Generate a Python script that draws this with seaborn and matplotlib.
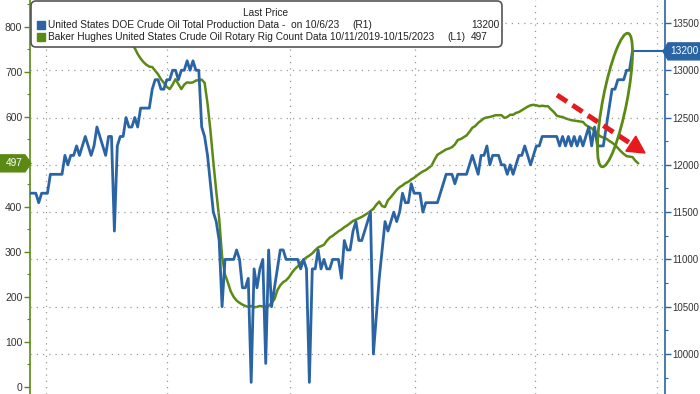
import numpy as np
import pandas as pd
import matplotlib.pyplot as plt
import seaborn as sns
from matplotlib.patches import FancyBboxPatch, Ellipse, Polygon, Rectangle
from matplotlib.lines import Line2D

# produccion semanal DOE (miles de barriles/dia), eje derecho
produccion = [
    11700, 11700, 11700, 11600, 11700, 11700, 11700, 11900, 11900, 11900,
    11900, 11900, 12100, 12000, 12100, 12100, 12200, 12100, 12200, 12300,
    12200, 12100, 12200, 12400, 12300, 12200, 12100, 12300, 12300, 11300,
    12200, 12300, 12300, 12500, 12400, 12400, 12500, 12400, 12600, 12600,
    12600, 12600, 12800, 12900, 12900, 12800, 12800, 12900, 12900, 13000,
    13000, 12900, 13000, 13000, 13100, 13000, 13100, 13000, 13000, 12400,
    12300, 12100, 11800, 11500, 11400, 11200, 10500, 11000, 11000, 11000,
    11000, 11100, 11000, 10700, 10700, 10800, 9700, 10900, 10700, 10900,
    11000, 9900, 11100, 10500, 10700, 10900, 11100, 11100, 11000, 11000,
    11000, 11000, 11000, 10900, 11000, 10900, 9700, 10900, 10900, 11100,
    10900, 11000, 10900, 10900, 11000, 11000, 11000, 10800, 11200, 11100,
    11100, 11300, 11400, 11200, 11200, 11300, 11400, 11500, 10000, 10400,
    10800, 11100, 11400, 11300, 11400, 11500, 11400, 11500, 11700, 11600,
    11600, 11800, 11700, 11700, 11700, 11500, 11600, 11600, 11600, 11600,
    11600, 11700, 11800, 11900, 11900, 11900, 11800, 11900, 11900, 11900,
    11900, 12000, 12100, 12000, 11900, 12100, 12100, 12200, 12000, 12100,
    12100, 12100, 12000, 12000, 11900, 12000, 11900, 12000, 12100, 12100,
    12200, 12100, 12000, 12100, 12200, 12200, 12300, 12300, 12300, 12300,
    12300, 12300, 12200, 12300, 12200, 12300, 12200, 12300, 12200, 12300,
    12200, 12300, 12400, 12200, 12400, 12200, 12200, 12200, 12400, 12600,
    12800, 12800, 12900, 12900, 12900, 13000, 13000, 13200,
]

# plataformas Baker Hughes (L1), eje izquierdo
plataformas = [
    832, 828, 826, 821, 818, 815, 812, 810, 806, 804,
    801, 800, 797, 795, 794, 792, 790, 788, 787, 785,
    784, 782, 781, 780, 778, 777, 776, 775, 774, 772,
    771, 770, 768, 766, 763, 760, 753, 740, 730, 722,
    716, 712, 711, 703, 695, 684, 676, 667, 662, 672,
    684, 673, 662, 672, 677, 676, 677, 681, 682, 683,
    676, 630, 570, 500, 435, 375, 290, 250, 232, 212,
    200, 192, 187, 183, 180, 178, 180, 177, 178, 180,
    179, 178, 180, 187, 195, 215, 226, 233, 237, 244,
    254, 262, 268, 276, 283, 288, 292, 297, 304, 310,
    313, 316, 325, 332, 336, 341, 346, 350, 355, 359,
    364, 369, 372, 375, 378, 382, 386, 391, 396, 405,
    412, 402, 400, 415, 422, 430, 438, 444, 448, 453,
    456, 461, 465, 470, 475, 479, 482, 487, 492, 505,
    516, 520, 524, 528, 530, 533, 539, 549, 551, 555,
    559, 567, 576, 580, 587, 592, 597, 599, 600, 602,
    604, 604, 604, 598, 600, 605, 605, 609, 611, 615,
    619, 623, 626, 627, 626, 624, 625, 624, 624, 617,
    611, 603, 601, 600, 597, 595, 593, 592, 591, 590,
    589, 582, 578, 575, 569, 562, 557, 554, 552, 547,
    543, 538, 531, 524, 518, 513, 512, 511, 503, 497,
]

azul = '#2a64a4'
verde = '#5b8a14'
rojo = '#e8191e'

df_prod = pd.DataFrame({'semana': np.arange(len(produccion)), 'valor': produccion})
df_rig = pd.DataFrame({'semana': np.arange(len(plataformas)), 'valor': plataformas})

sns.set_theme(style='white')
plt.rcParams['font.family'] = ['Liberation Sans', 'DejaVu Sans']

fig = plt.figure(figsize=(7, 3.94), dpi=100)
ax = fig.add_axes([30 / 700, 0, 635 / 700, 1])
ax2 = ax.twinx()

sns.lineplot(data=df_rig, x='semana', y='valor', ax=ax, color=verde, linewidth=1.8)
sns.lineplot(data=df_prod, x='semana', y='valor', ax=ax2, color=azul, linewidth=2.0)

xmax = 218.2
ax.set_xlim(0, xmax)
ax.set_ylim(-15.6, 860)
ax2.set_ylim(9577, 13743)

# linea del ultimo valor hasta el eje derecho
ax2.plot([len(produccion) - 1, xmax], [produccion[-1], produccion[-1]], color=azul, lw=1.5,
         clip_on=False)

# rejilla
ax.set_xticks([5.5, 47.1, 89.3, 132.3, 173.5, 215.5])
ax.xaxis.grid(True, linestyle=(0, (1, 4)), color='#999999', lw=0.9)
ax.tick_params(axis='x', length=0, labelbottom=False)
ax.set_xlabel('')
ax.set_ylabel('')
ax2.set_ylabel('')

ax2.set_yticks(np.arange(10000, 13501, 500))
ax2.set_yticks(np.arange(9750, 13750, 500), minor=True)
ax2.yaxis.grid(True, linestyle=(0, (1, 4)), color='#999999', lw=0.9)
ax.set_yticks(np.arange(0, 801, 100))
ax.set_yticks(np.arange(50, 851, 100), minor=True)

for a in (ax, ax2):
    for s in a.spines.values():
        s.set_visible(False)
ax.spines['left'].set_visible(True)
ax.spines['left'].set_color(verde)
ax.spines['left'].set_linewidth(1.2)
ax2.spines['right'].set_visible(True)
ax2.spines['right'].set_color(azul)
ax2.spines['right'].set_linewidth(1.2)

ax.tick_params(axis='y', which='major', direction='out', length=4, width=1, color=verde,
               labelsize=7.5, labelcolor='#333333', pad=1.5)
ax.tick_params(axis='y', which='minor', direction='out', length=2.5, width=0.8, color=verde)
ax2.tick_params(axis='y', which='major', direction='out', length=4, width=1, color=azul,
                labelsize=7, labelcolor='#333333', pad=1)
ax2.tick_params(axis='y', which='minor', direction='out', length=2.5, width=0.8, color=azul)


def px(x, y):
    return (x / 100, (394 - y) / 100)


tr = fig.dpi_scale_trans

# leyenda
caja = FancyBboxPatch(px(31, 47), 4.71, 0.46, boxstyle='round,pad=0,rounding_size=0.05',
                      transform=tr, facecolor='white', edgecolor='#555555', lw=1.2, zorder=10)
fig.patches.append(caja)
fig.patches.append(Rectangle(px(37, 29), 0.08, 0.08, transform=tr, color=azul, zorder=11))
fig.patches.append(Rectangle(px(37, 41), 0.08, 0.08, transform=tr, color=verde, zorder=11))
fs = 7.3
fig.text(*px(266, 13), 'Last Price', transform=tr, ha='center', va='center', fontsize=fs,
         color='#222222', zorder=12)
fig.text(*px(48, 25), 'United States DOE Crude Oil Total Production Data -  on 10/6/23',
         transform=tr, ha='left', va='center', fontsize=fs, color='#222222', zorder=12)
fig.text(*px(48, 37), 'Baker Hughes United States Crude Oil Rotary Rig Count Data 10/11/2019-10/15/2023',
         transform=tr, ha='left', va='center', fontsize=fs, color='#222222', zorder=12)
fig.text(*px(352, 25), '(R1)', transform=tr, ha='left', va='center', fontsize=fs,
         color='#222222', zorder=12)
fig.text(*px(447, 37), '(L1)', transform=tr, ha='left', va='center', fontsize=fs,
         color='#222222', zorder=12)
fig.text(*px(471, 25), f'{produccion[-1]}', transform=tr, ha='left', va='center', fontsize=fs,
         color='#222222', zorder=12)
fig.text(*px(471, 37), f'{plataformas[-1]}', transform=tr, ha='left', va='center', fontsize=fs,
         color='#222222', zorder=12)

# etiquetas del ultimo precio
y_azul = 23 + (13500 - produccion[-1]) / 10.575
fig.patches.append(Polygon([px(663, y_azul), px(668, y_azul - 8.5), px(700, y_azul - 8.5),
                            px(700, y_azul + 8.5), px(668, y_azul + 8.5)], closed=True,
                           transform=tr, color=azul, zorder=11))
fig.text(*px(684, y_azul), f'{produccion[-1]}', transform=tr, ha='center', va='center',
         fontsize=7.3, color='white', zorder=12)
y_verde = 387 - plataformas[-1] * 0.45
fig.patches.append(Polygon([px(0, y_verde - 8.5), px(25, y_verde - 8.5), px(31, y_verde),
                            px(25, y_verde + 8.5), px(0, y_verde + 8.5)], closed=True,
                           transform=tr, color=verde, zorder=11))
fig.text(*px(14, y_verde), f'{plataformas[-1]}', transform=tr, ha='center', va='center',
         fontsize=7.3, color='white', zorder=12)

# anotaciones: elipse y flecha roja
fig.patches.append(Ellipse(px(615, 100), 0.24, 1.36, angle=-11, transform=tr, fill=False,
                           edgecolor=verde, lw=2, zorder=9))
inicio = np.array([557.0, 95.0])
punta = np.array([645.0, 153.0])
u = (punta - inicio) / np.linalg.norm(punta - inicio)
n = np.array([-u[1], u[0]])
base = punta - 17 * u
esq1 = base + 9 * n
esq2 = base - 9 * n
fig.lines.append(Line2D([inicio[0] / 100, (base[0] + 2 * u[0]) / 100],
                        [(394 - inicio[1]) / 100, (394 - base[1] - 2 * u[1]) / 100],
                        transform=tr, color=rojo, lw=3.6, linestyle=(0, (2.4, 1.3)), zorder=9))
fig.patches.append(Polygon([px(*punta), px(*esq1), px(*esq2)], closed=True, transform=tr,
                           color=rojo, zorder=9))

fig.savefig('out.png', dpi=100)
